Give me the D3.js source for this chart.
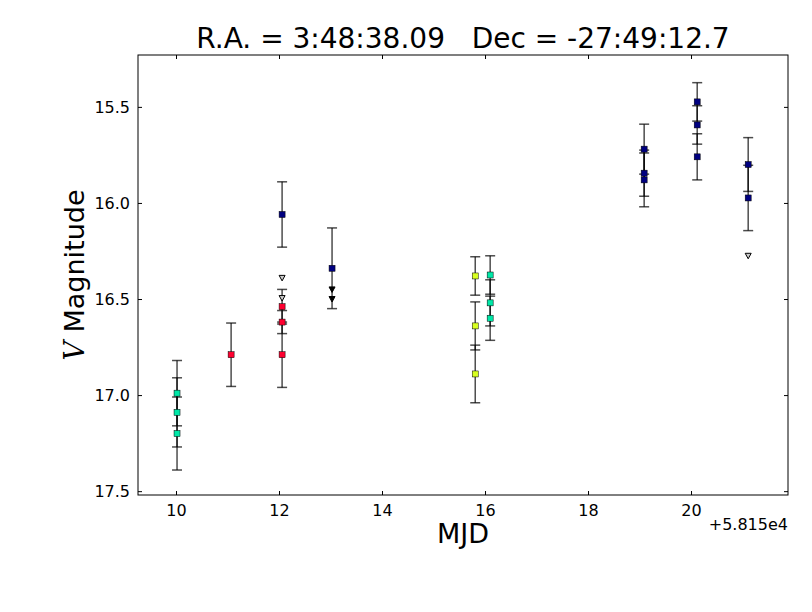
<!DOCTYPE html>
<html>
<head>
<meta charset="utf-8">
<script src="https://cdn.jsdelivr.net/npm/d3@7"></script>
<style>
  body { margin: 0; background: #fff; }
  text { font-family: "DejaVu Sans", sans-serif; }
</style>
</head>
<body>
<svg id="chart" width="812" height="612"></svg>
<script>
// detections: mjd offset from 58150, magnitude, error, band
var detMjd  = [10.02, 10.02, 10.02, 11.07, 12.06, 12.06, 12.06, 12.06, 13.03,
               15.81, 15.81, 15.81, 16.1, 16.1, 16.1,
               19.09, 19.09, 19.09, 20.12, 20.12, 20.12, 21.11, 21.11];
var detMag  = [16.99, 17.09, 17.20, 16.79, 16.06, 16.54, 16.62, 16.79, 16.34,
               16.38, 16.64, 16.89, 16.375, 16.52, 16.60,
               15.72, 15.845, 15.88, 15.474, 15.594, 15.76, 15.80, 15.974];
var detErr  = [0.17, 0.18, 0.19, 0.165, 0.17, 0.09, 0.06, 0.17, 0.21,
               0.10, 0.125, 0.15, 0.10, 0.12, 0.115,
               0.13, 0.12, 0.14, 0.10, 0.10, 0.12, 0.14, 0.17];
var detBand = ["g", "g", "g", "r", "b", "r", "r", "r", "b",
               "y", "y", "y", "g", "g", "g",
               "b", "b", "b", "b", "b", "b", "b", "b"];

// upper limits
var limMjd    = [12.06, 12.06, 13.03, 13.03, 21.11];
var limMag    = [16.39, 16.495, 16.45, 16.50, 16.275];
var limFilled = [false, false, true, true, false];

var xTicks = [10, 12, 14, 16, 18, 20];
var yTicks = [15.5, 16.0, 16.5, 17.0, 17.5];

var bandColor = { g: "#00e8a8", r: "#ff0030", b: "#000080", y: "#d8ff20" };

var margin = { left: 138, right: 788, top: 55, bottom: 495 };
var svg = d3.select("#chart");

var x = d3.scaleLinear().domain([9.262, 21.883]).range([margin.left, margin.right]);
var y = d3.scaleLinear().domain([15.23, 17.52]).range([margin.top, margin.bottom]);

// frame
svg.append("rect")
  .attr("x", margin.left).attr("y", margin.top)
  .attr("width", margin.right - margin.left)
  .attr("height", margin.bottom - margin.top)
  .attr("fill", "none").attr("stroke", "#000").attr("stroke-width", 1);

// axes, ticks pointing inward like matplotlib classic
var xAxisB = d3.axisBottom(x).tickValues(xTicks).tickFormat(d3.format("d")).tickSizeInner(-4).tickSizeOuter(0).tickPadding(10);
var xAxisT = d3.axisTop(x).tickValues(xTicks).tickFormat("").tickSizeInner(-4).tickSizeOuter(0);
var yAxisL = d3.axisLeft(y).tickValues(yTicks).tickFormat(d3.format(".1f")).tickSizeInner(-4).tickSizeOuter(0).tickPadding(8);
var yAxisR = d3.axisRight(y).tickValues(yTicks).tickFormat("").tickSizeInner(-4).tickSizeOuter(0);

svg.append("g").attr("transform", "translate(0," + margin.bottom + ")").call(xAxisB);
svg.append("g").attr("transform", "translate(0," + margin.top + ")").call(xAxisT);
svg.append("g").attr("transform", "translate(" + margin.left + ",0)").call(yAxisL);
svg.append("g").attr("transform", "translate(" + margin.right + ",0)").call(yAxisR);

svg.selectAll(".domain").remove();
svg.selectAll(".tick line").attr("stroke", "#000");
svg.selectAll(".tick text")
  .attr("fill", "#000")
  .style("font-size", "16px")
  .style("font-family", "DejaVu Sans");

var dets = detMjd.map(function(d, i) {
  return { x: d, m: detMag[i], e: detErr[i], band: detBand[i] };
});

// error bars
var eb = svg.append("g").attr("stroke", "#000").attr("stroke-opacity", 0.7).attr("stroke-width", 1.5);
eb.selectAll("line.bar").data(dets).enter().append("line")
  .attr("x1", d => x(d.x)).attr("x2", d => x(d.x))
  .attr("y1", d => y(d.m - d.e)).attr("y2", d => y(d.m + d.e));
eb.selectAll("line.capTop").data(dets).enter().append("line")
  .attr("x1", d => x(d.x) - 5).attr("x2", d => x(d.x) + 5)
  .attr("y1", d => y(d.m - d.e)).attr("y2", d => y(d.m - d.e));
eb.selectAll("line.capBot").data(dets).enter().append("line")
  .attr("x1", d => x(d.x) - 5).attr("x2", d => x(d.x) + 5)
  .attr("y1", d => y(d.m + d.e)).attr("y2", d => y(d.m + d.e));

// upper limit triangles
var lims = limMjd.map(function(d, i) { return { x: d, m: limMag[i], f: limFilled[i] }; });
svg.selectAll("path.lim").data(lims).enter().append("path")
  .attr("d", "M-3,-2.5L3,-2.5L0,3Z")
  .attr("transform", d => "translate(" + x(d.x) + "," + y(d.m) + ")")
  .attr("fill", d => d.f ? "#000" : "#ccc")
  .attr("stroke", "#000").attr("stroke-width", 1);

// detection markers
svg.selectAll("rect.det").data(dets).enter().append("rect")
  .attr("x", d => x(d.x) - 3).attr("y", d => y(d.m) - 3)
  .attr("width", 6).attr("height", 6)
  .attr("fill", d => bandColor[d.band])
  .attr("stroke", "#000").attr("stroke-width", 0.5);

// title and labels
svg.append("text")
  .attr("x", (margin.left + margin.right) / 2).attr("y", 48)
  .attr("text-anchor", "middle")
  .style("font-size", "28px")
  .attr("xml:space", "preserve")
  .text("R.A. = 3:48:38.09   Dec = -27:49:12.7");

svg.append("text")
  .attr("x", (margin.left + margin.right) / 2).attr("y", 543)
  .attr("text-anchor", "middle")
  .style("font-size", "27px")
  .text("MJD");

svg.append("text")
  .attr("x", margin.right).attr("y", 530)
  .attr("text-anchor", "end")
  .style("font-size", "16px")
  .text("+5.815e4");

var yl = svg.append("text")
  .attr("transform", "translate(84," + (margin.top + margin.bottom) / 2 + ") rotate(-90)")
  .attr("text-anchor", "middle")
  .style("font-size", "27px");
yl.append("tspan").style("font-family", "DejaVu Serif").style("font-style", "italic").text("V");
yl.append("tspan").text(" Magnitude");
</script>
</body>
</html>
